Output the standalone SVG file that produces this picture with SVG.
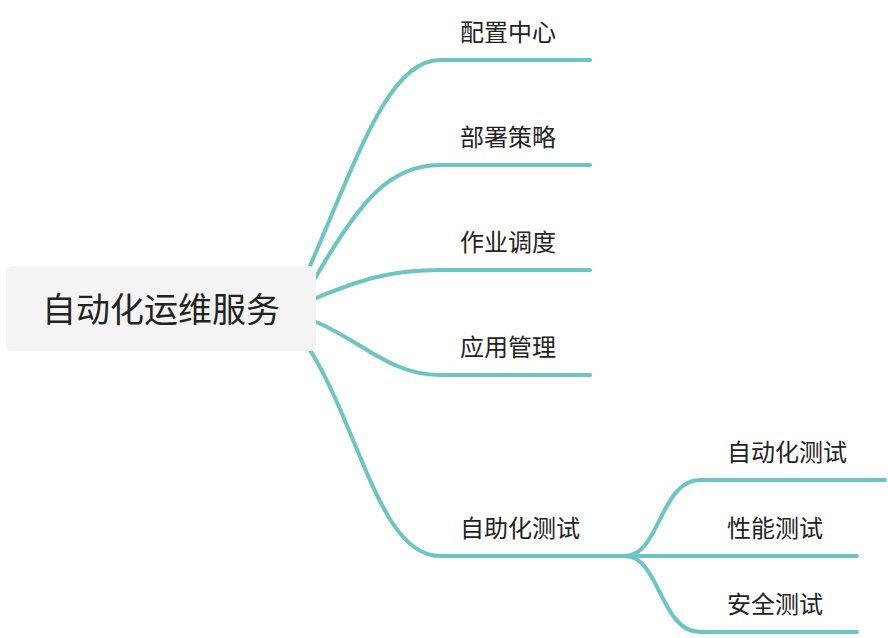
<svg xmlns="http://www.w3.org/2000/svg" width="888" height="638" viewBox="0 0 888 638">
<style>
.c{fill:none;stroke:#6cc4c4;stroke-width:4;stroke-linecap:round}
.t{font-family:"Noto Sans CJK SC",sans-serif;font-size:24px;fill:#222}
</style>
<rect width="888" height="638" fill="#fff"/>
<g id="connectors">
<path class="c" d="M310,266 C360,150 390,60 440,60 L590,60"/>
<path class="c" d="M314,280 C360,200 390,165 440,165 L590,165"/>
<path class="c" d="M316,298 C360,280 390,270 440,270 L590,270"/>
<path class="c" d="M316,322 C360,340 390,375 440,375 L590,375"/>
<path class="c" d="M310,350 C360,430 380,556 440,556 L625,556"/>
<path class="c" d="M625,556 C660,556 660,480 700,480 L885,480"/>
<path class="c" d="M625,556 L857,556"/>
<path class="c" d="M625,556 C660,556 660,632 700,632 L857,632"/>
</g>
<g id="root"><rect x="6" y="266" width="310" height="85" rx="6" fill="#f4f4f4"/><text x="161" y="322" text-anchor="middle" font-family="Noto Sans CJK SC,sans-serif" font-size="34" fill="#222">自动化运维服务</text></g>
<g id="n1"><text class="t" x="460" y="41">配置中心</text></g>
<g id="n2"><text class="t" x="460" y="146">部署策略</text></g>
<g id="n3"><text class="t" x="460" y="251">作业调度</text></g>
<g id="n4"><text class="t" x="460" y="356">应用管理</text></g>
<g id="n5"><text class="t" x="460" y="537">自助化测试</text></g>
<g id="n6"><text class="t" x="727" y="461">自动化测试</text></g>
<g id="n7"><text class="t" x="727" y="537">性能测试</text></g>
<g id="n8"><text class="t" x="727" y="613">安全测试</text></g>
</svg>
